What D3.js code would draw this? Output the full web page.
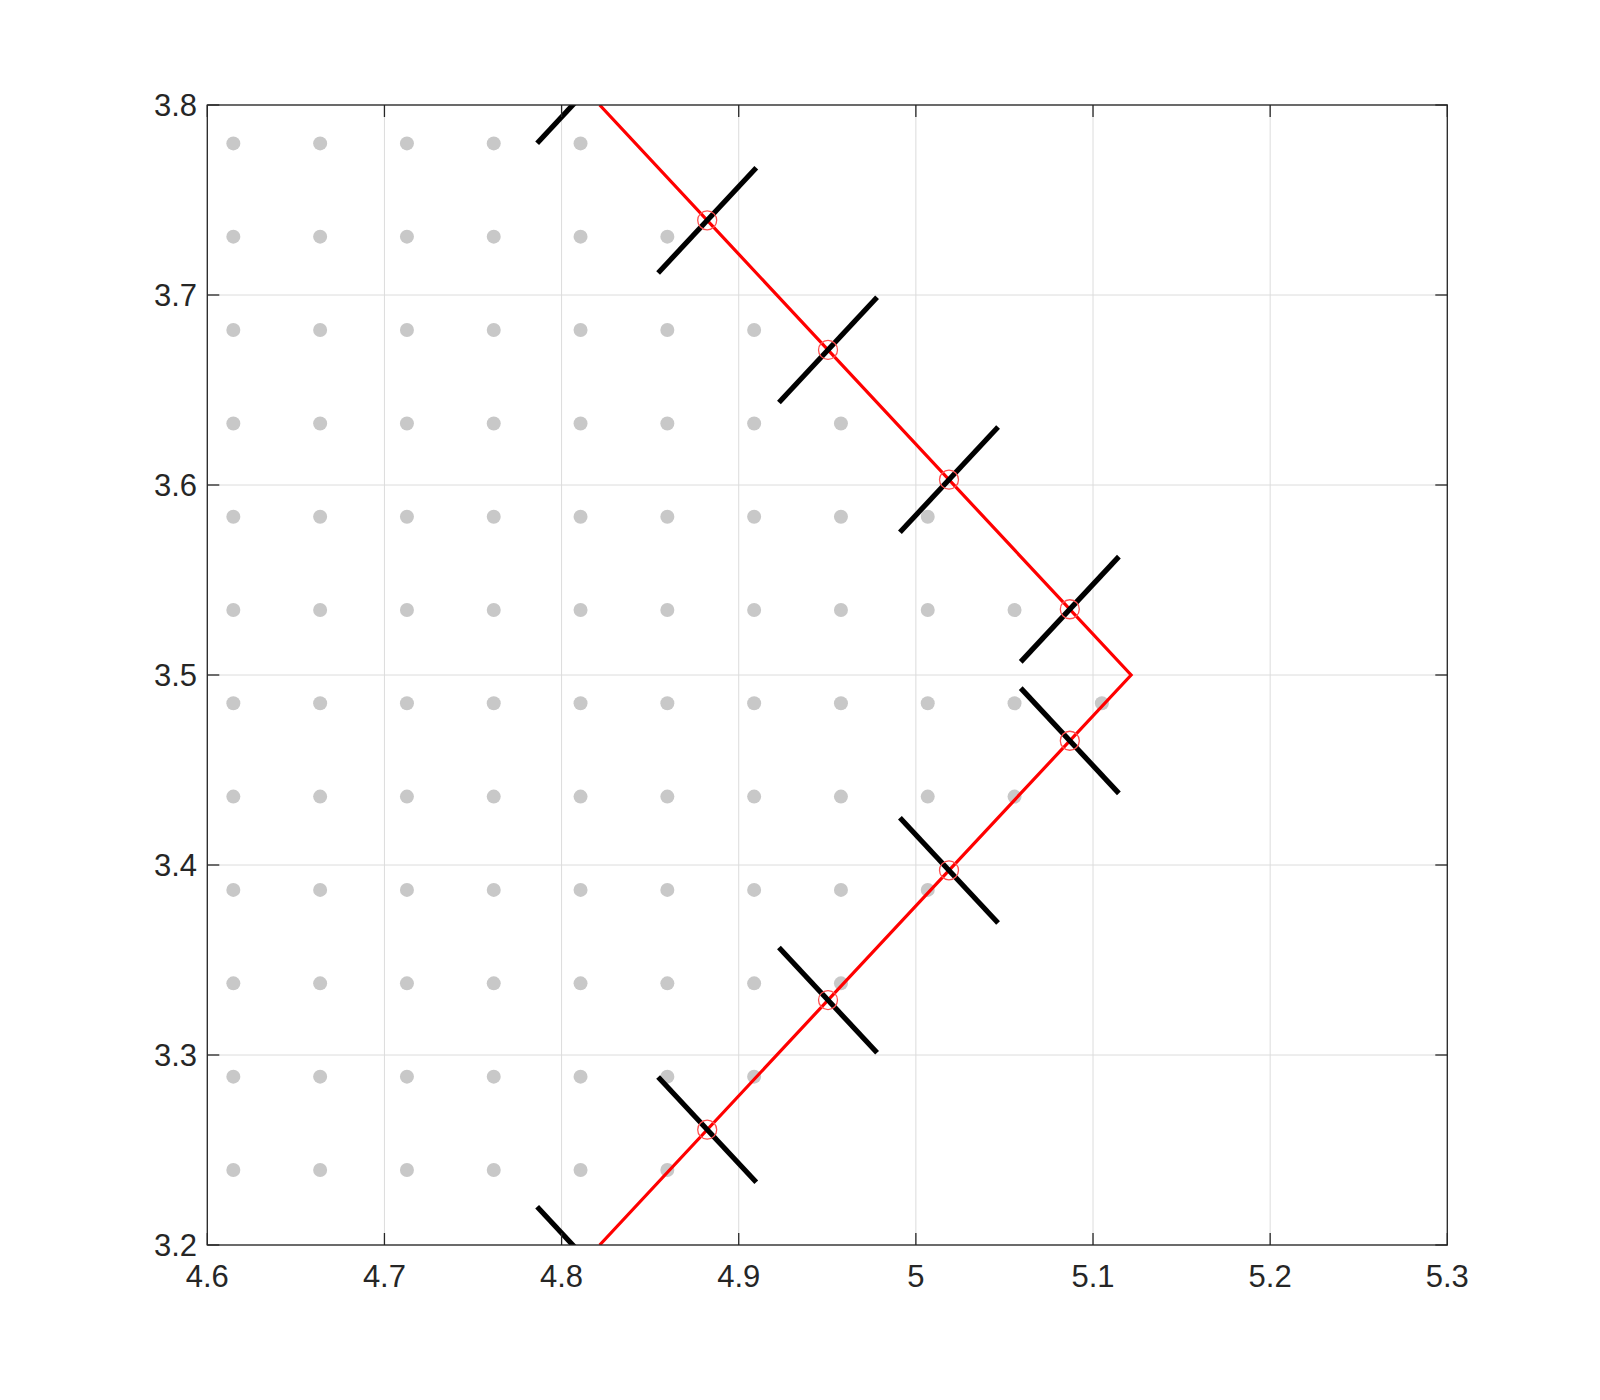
<!DOCTYPE html>
<html>
<head>
<meta charset="utf-8">
<script src="https://cdn.jsdelivr.net/npm/d3@7"></script>
<style>
html,body{margin:0;padding:0;background:#fff;}
svg{display:block;}
</style>
</head>
<body>
<svg id="chart" width="1600" height="1400"></svg>
<script>
// ---- data ----
const xTicks = [4.6, 4.7, 4.8, 4.9, 5.0, 5.1, 5.2, 5.3];
const xTickLabels = ["4.6", "4.7", "4.8", "4.9", "5", "5.1", "5.2", "5.3"];
const yTicks = [3.2, 3.3, 3.4, 3.5, 3.6, 3.7, 3.8];
const yTickLabels = ["3.2", "3.3", "3.4", "3.5", "3.6", "3.7", "3.8"];

// grey grid points: column x values, row y values, number of points in each row (from left)
const gridX = [4.6147, 4.6637, 4.7127, 4.7617, 4.8107, 4.8597, 4.9087, 4.9577, 5.0067, 5.0557, 5.1050];
const gridY = [3.7798, 3.7307, 3.6816, 3.6324, 3.5833, 3.5342, 3.4851, 3.4360, 3.3869, 3.3377, 3.2886, 3.2395];
const rowCounts = [5, 6, 7, 8, 9, 10, 11, 10, 9, 8, 7, 6];

// red boundary polyline
const boundaryX = [4.8215, 5.1215, 4.8215];
const boundaryY = [3.8, 3.5, 3.2];

// marker points on the boundary
const markerX = [4.8139, 4.8822, 4.9504, 5.0187, 5.0869, 5.0869, 5.0187, 4.9504, 4.8822, 4.8139];
const markerY = [3.8076, 3.7393, 3.6711, 3.6028, 3.5346, 3.4654, 3.3972, 3.3289, 3.2607, 3.1924];
// normal segment half-extent at each marker (dx, dy)
const normalDX = [0.0277, 0.0277, 0.0277, 0.0277, 0.0277, 0.0277, 0.0277, 0.0277, 0.0277, 0.0277];
const normalDY = [0.0277, 0.0277, 0.0277, 0.0277, 0.0277, -0.0277, -0.0277, -0.0277, -0.0277, -0.0277];

// ---- layout ----
const L = 207.3, R = 1447.3, T = 105, B = 1245;
const svg = d3.select("#chart");
const x = d3.scaleLinear().domain([4.6, 5.3]).range([L, R]);
const y = d3.scaleLinear().domain([3.2, 3.8]).range([B, T]);
const axisColor = "#262626";
const font = "'Liberation Sans', Arial, Helvetica, sans-serif";

svg.append("defs").append("clipPath").attr("id", "clip")
  .append("rect").attr("x", L).attr("y", T).attr("width", R - L).attr("height", B - T);

// grid lines
const grid = svg.append("g");
grid.selectAll("line.gx").data(xTicks).enter().append("line")
  .attr("x1", d => x(d)).attr("x2", d => x(d)).attr("y1", T).attr("y2", B)
  .attr("stroke", "#dcdcdc").attr("stroke-width", 1);
grid.selectAll("line.gy").data(yTicks).enter().append("line")
  .attr("x1", L).attr("x2", R).attr("y1", d => y(d)).attr("y2", d => y(d))
  .attr("stroke", "#dcdcdc").attr("stroke-width", 1);

const plot = svg.append("g").attr("clip-path", "url(#clip)");

// grey dots
const dots = [];
gridY.forEach((gy, i) => {
  for (let j = 0; j < rowCounts[i]; j++) dots.push([gridX[j], gy]);
});
plot.selectAll("circle.dot").data(dots).enter().append("circle")
  .attr("cx", d => x(d[0])).attr("cy", d => y(d[1])).attr("r", 7)
  .attr("fill", "#c8c8c8");

// red boundary
const bpts = boundaryX.map((v, i) => [v, boundaryY[i]]);
plot.append("path")
  .attr("d", d3.line().x(d => x(d[0])).y(d => y(d[1]))(bpts))
  .attr("fill", "none").attr("stroke", "#ff0000").attr("stroke-width", 3.2);

// black normal segments
const mk = markerX.map((v, i) => ({x: v, y: markerY[i], dx: normalDX[i], dy: normalDY[i]}));
plot.selectAll("line.norm").data(mk).enter().append("line")
  .attr("x1", d => x(d.x - d.dx)).attr("y1", d => y(d.y - d.dy))
  .attr("x2", d => x(d.x + d.dx)).attr("y2", d => y(d.y + d.dy))
  .attr("stroke", "#000").attr("stroke-width", 5.2).attr("stroke-linecap", "butt");

// red circle markers
plot.selectAll("circle.mk").data(mk).enter().append("circle")
  .attr("cx", d => x(d.x)).attr("cy", d => y(d.y)).attr("r", 9.5)
  .attr("fill", "none").attr("stroke", "#ff5050").attr("stroke-width", 1.3);

// axes box and ticks
const ax = svg.append("g");
const tl = 12;
xTicks.forEach(t => {
  ax.append("line").attr("x1", x(t)).attr("x2", x(t)).attr("y1", B).attr("y2", B - tl).attr("stroke", axisColor).attr("stroke-width", 1.3);
  ax.append("line").attr("x1", x(t)).attr("x2", x(t)).attr("y1", T).attr("y2", T + tl).attr("stroke", axisColor).attr("stroke-width", 1.3);
});
yTicks.forEach(t => {
  ax.append("line").attr("x1", L).attr("x2", L + tl).attr("y1", y(t)).attr("y2", y(t)).attr("stroke", axisColor).attr("stroke-width", 1.3);
  ax.append("line").attr("x1", R).attr("x2", R - tl).attr("y1", y(t)).attr("y2", y(t)).attr("stroke", axisColor).attr("stroke-width", 1.3);
});
ax.append("rect").attr("x", L).attr("y", T).attr("width", R - L).attr("height", B - T)
  .attr("fill", "none").attr("stroke", axisColor).attr("stroke-width", 1.3);

// tick labels
svg.selectAll("text.xl").data(xTicks).enter().append("text")
  .attr("x", d => x(d)).attr("y", 1287)
  .attr("text-anchor", "middle").attr("font-family", font).attr("font-size", 31)
  .attr("fill", axisColor).text((d, i) => xTickLabels[i]);
svg.selectAll("text.yl").data(yTicks).enter().append("text")
  .attr("x", 197).attr("y", d => y(d) + 11)
  .attr("text-anchor", "end").attr("font-family", font).attr("font-size", 31)
  .attr("fill", axisColor).text((d, i) => yTickLabels[i]);
</script>
</body>
</html>
